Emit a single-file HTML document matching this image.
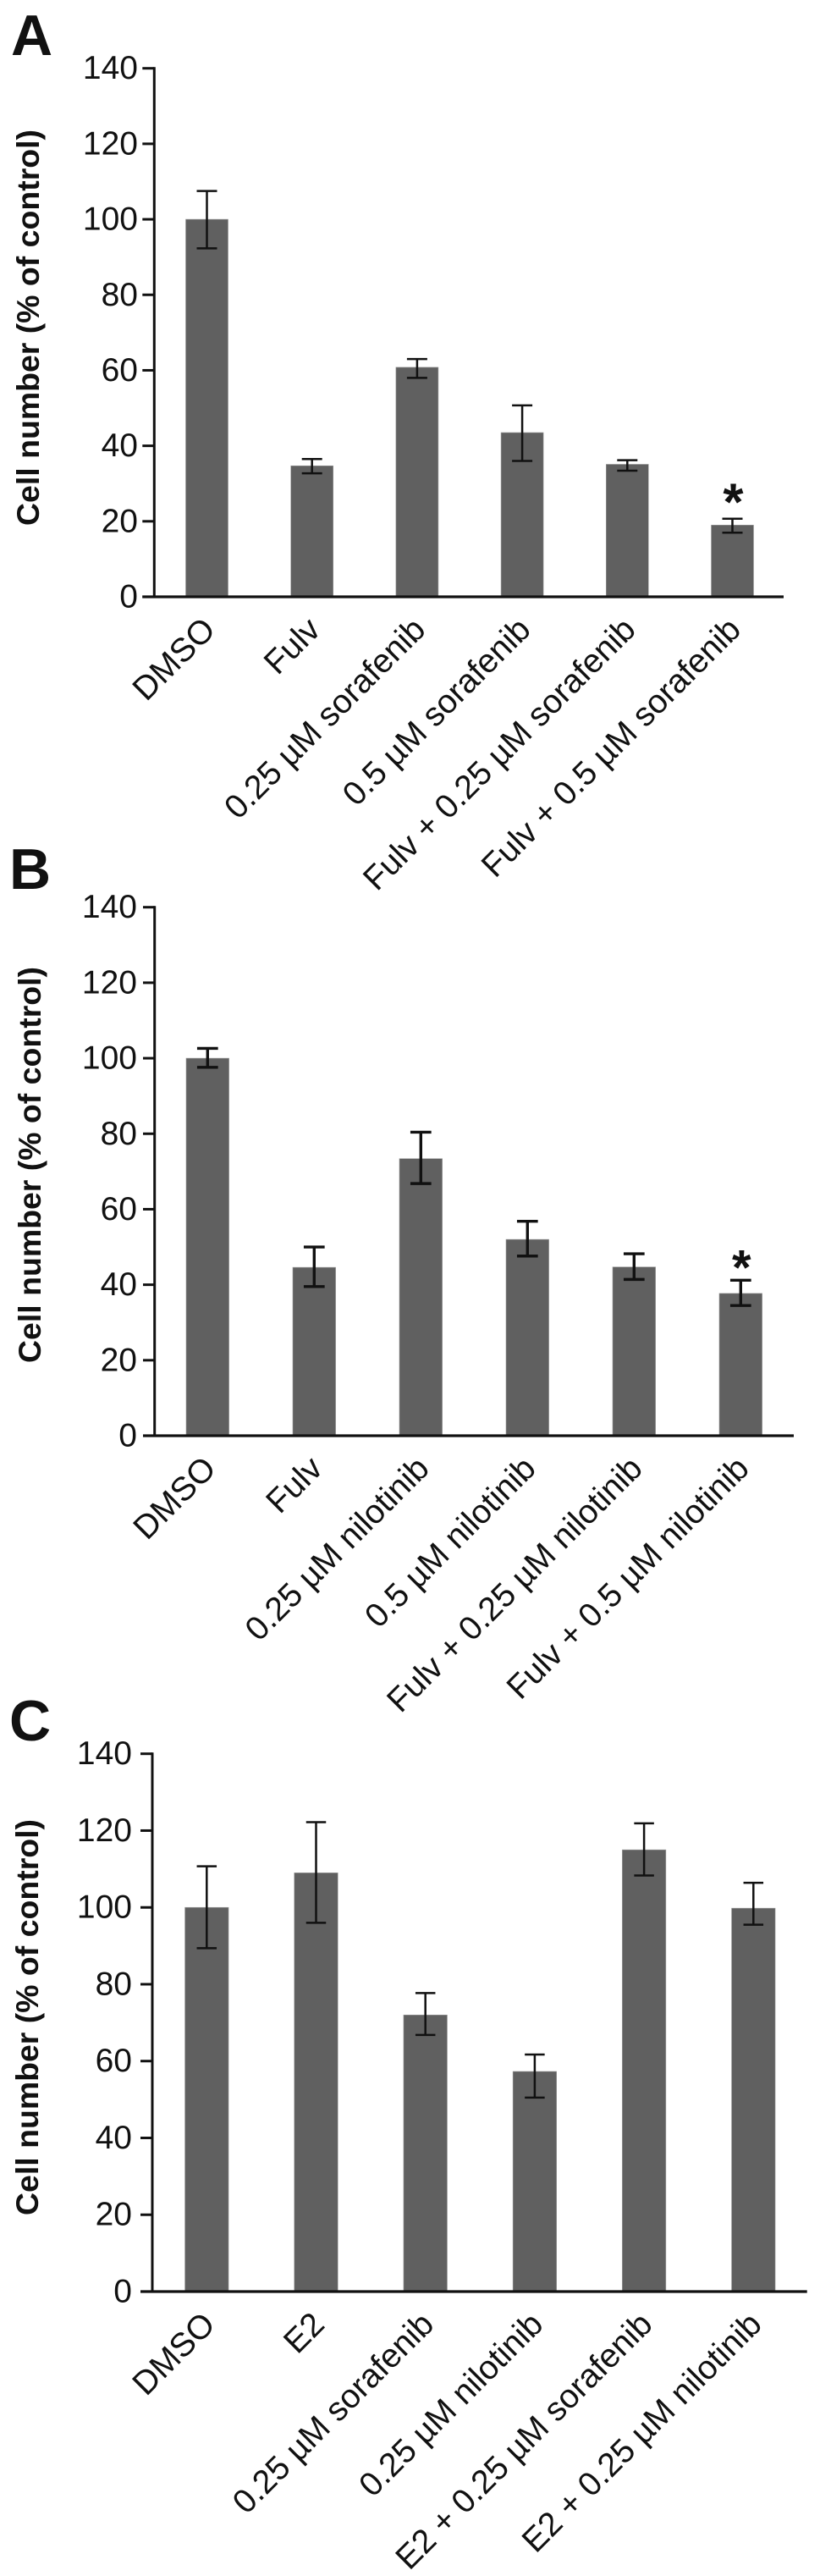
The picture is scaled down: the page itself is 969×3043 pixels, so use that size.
<!DOCTYPE html>
<html lang="en">
<head>
<meta charset="utf-8">
<title>Cell number bar charts</title>
<style>
html,body{margin:0;padding:0;background:#fff;}
body{width:969px;height:3043px;overflow:hidden;}
svg{display:block;}
text{font-family:"Liberation Sans",sans-serif;fill:#111;}
</style>
</head>
<body>
<svg id="figure" xmlns="http://www.w3.org/2000/svg" width="969" height="3043" viewBox="0 0 969 3043"></svg>
<script>
const yTickValues = [0, 20, 40, 60, 80, 100, 120, 140];
const yAxisTitle = "Cell number (% of control)";

const panelANames = ["DMSO", "Fulv", "0.25 µM sorafenib", "0.5 µM sorafenib", "Fulv + 0.25 µM sorafenib", "Fulv + 0.5 µM sorafenib"];
const panelAMeans = [100, 34.7, 60.8, 43.5, 35.1, 19];
const panelAUpper = [107.5, 36.5, 63, 50.7, 36.2, 20.7];
const panelALower = [92.3, 32.7, 58, 36, 33.4, 17];
const panelAStars = [5];

const panelBNames = ["DMSO", "Fulv", "0.25 µM nilotinib", "0.5 µM nilotinib", "Fulv + 0.25 µM nilotinib", "Fulv + 0.5 µM nilotinib"];
const panelBMeans = [100, 44.6, 73.4, 52, 44.7, 37.7];
const panelBUpper = [102.6, 50, 80.4, 56.8, 48.2, 41.2];
const panelBLower = [97.6, 39.5, 66.8, 47.6, 41.4, 34.5];
const panelBStars = [5];

const panelCNames = ["DMSO", "E2", "0.25 µM sorafenib", "0.25 µM nilotinib", "E2 + 0.25 µM sorafenib", "E2 + 0.25 µM nilotinib"];
const panelCMeans = [100, 109, 72, 57.3, 115, 99.8];
const panelCUpper = [110.7, 122.2, 77.7, 61.7, 121.9, 106.4];
const panelCLower = [89.4, 96, 66.8, 50.5, 108.3, 95.5];
const panelCStars = [];

const NS = "http://www.w3.org/2000/svg";
const svg = document.getElementById("figure");

function mk(parent, tag, attrs, content) {
  const el = document.createElementNS(NS, tag);
  for (const k in attrs) el.setAttribute(k, attrs[k]);
  if (content !== undefined) el.textContent = content;
  parent.appendChild(el);
  return el;
}

function drawPanel(cfg) {
  const g = mk(svg, "g", {});
  
  

  const yScale = v => cfg.zeroY - (v / 140) * (cfg.zeroY - cfg.topY);
  const xScale = i => cfg.firstX + i * cfg.stepX;

  const letter = mk(g, "text", {x: cfg.letterX, y: cfg.letterY, "font-size": 68, "font-weight": 700, fill: "#000"}, cfg.letter);
  
  

  const title = mk(g, "text", {
    x: 0, y: 0, "font-size": 37, "font-weight": 700, "text-anchor": "middle",
    textLength: 468, lengthAdjust: "spacingAndGlyphs",
    transform: "translate(" + cfg.titleX + " " + cfg.titleY + ") rotate(-90)"
  }, yAxisTitle);
  
  

  cfg.means.forEach(function (m, i) {
    const bar = mk(g, "rect", {
      x: xScale(i) - cfg.barW / 2, y: yScale(m), width: cfg.barW, height: cfg.zeroY - yScale(m),
      fill: "#606060", stroke: "#9a9a9a", "stroke-width": 0.6
    });
    
    
  });

  cfg.means.forEach(function (m, i) {
    const cx = xScale(i), up = yScale(cfg.upper[i]), lo = yScale(cfg.lower[i]);
    const eb = mk(g, "g", {stroke: "#111", "stroke-width": cfg.errW, fill: "none"});
    
    
    mk(eb, "line", {x1: cx, x2: cx, y1: up, y2: lo});
    mk(eb, "line", {x1: cx - cfg.capW / 2, x2: cx + cfg.capW / 2, y1: up, y2: up});
    mk(eb, "line", {x1: cx - cfg.capW / 2, x2: cx + cfg.capW / 2, y1: lo, y2: lo});
  });

  const yAxis = mk(g, "line", {x1: cfg.axisX, x2: cfg.axisX, y1: yScale(140) - 1.5, y2: cfg.zeroY, stroke: "#111", "stroke-width": 3});
  
  

  const xAxis = mk(g, "line", {x1: cfg.tickLeft, x2: cfg.axisEnd, y1: cfg.zeroY, y2: cfg.zeroY, stroke: "#111", "stroke-width": 3.2});
  
  

  yTickValues.forEach(function (v) {
    const tick = mk(g, "line", {x1: cfg.tickLeft, x2: cfg.axisX, y1: yScale(v), y2: yScale(v), stroke: "#111", "stroke-width": 3});
    
    
    const label = mk(g, "text", {x: cfg.tickTextX, y: yScale(v) + 12.5, "font-size": 39, "text-anchor": "end"}, String(v));
    
    
  });

  cfg.names.forEach(function (name, i) {
    const lx = xScale(i) + 12, ly = cfg.zeroY + 41;
    const label = mk(g, "text", {
      x: lx, y: ly, "font-size": 39.4, "text-anchor": "end",
      transform: "rotate(-45 " + lx + " " + ly + ")"
    }, name);
    
    
  });

  cfg.stars.forEach(function (i) {
    const star = mk(g, "text", {
      x: xScale(i) + 1, y: yScale(cfg.upper[i]) + cfg.starOffset,
      "font-size": cfg.starSize, "font-weight": 700, "text-anchor": "middle", fill: "#000"
    }, "*");
    
    
  });
}

drawPanel({letter: "A", letterX: 13, letterY: 65, titleX: 46, titleY: 387,
  names: panelANames, means: panelAMeans, upper: panelAUpper, lower: panelALower, stars: panelAStars,
  topY: 80.7, zeroY: 705, axisX: 182.3, tickLeft: 168.3, axisEnd: 926, tickTextX: 163,
  firstX: 244.5, stepX: 124.2, barW: 50, capW: 24, errW: 2.5, starOffset: 2, starSize: 62});

drawPanel({letter: "B", letterX: 11, letterY: 1050, titleX: 48, titleY: 1376,
  names: panelBNames, means: panelBMeans, upper: panelBUpper, lower: panelBLower, stars: panelBStars,
  topY: 1071.7, zeroY: 1696, axisX: 182.7, tickLeft: 169, axisEnd: 938, tickTextX: 162,
  firstX: 245.3, stepX: 126, barW: 50.6, capW: 24.7, errW: 3.4, starOffset: 5, starSize: 58});

drawPanel({letter: "C", letterX: 11, letterY: 2056, titleX: 45, titleY: 2383,
  names: panelCNames, means: panelCMeans, upper: panelCUpper, lower: panelCLower, stars: panelCStars,
  topY: 2071.7, zeroY: 2707, axisX: 180, tickLeft: 166, axisEnd: 953.7, tickTextX: 156,
  firstX: 244.3, stepX: 129.2, barW: 51.5, capW: 23.5, errW: 2.5, starOffset: 4, starSize: 60});
</script>
</body>
</html>
